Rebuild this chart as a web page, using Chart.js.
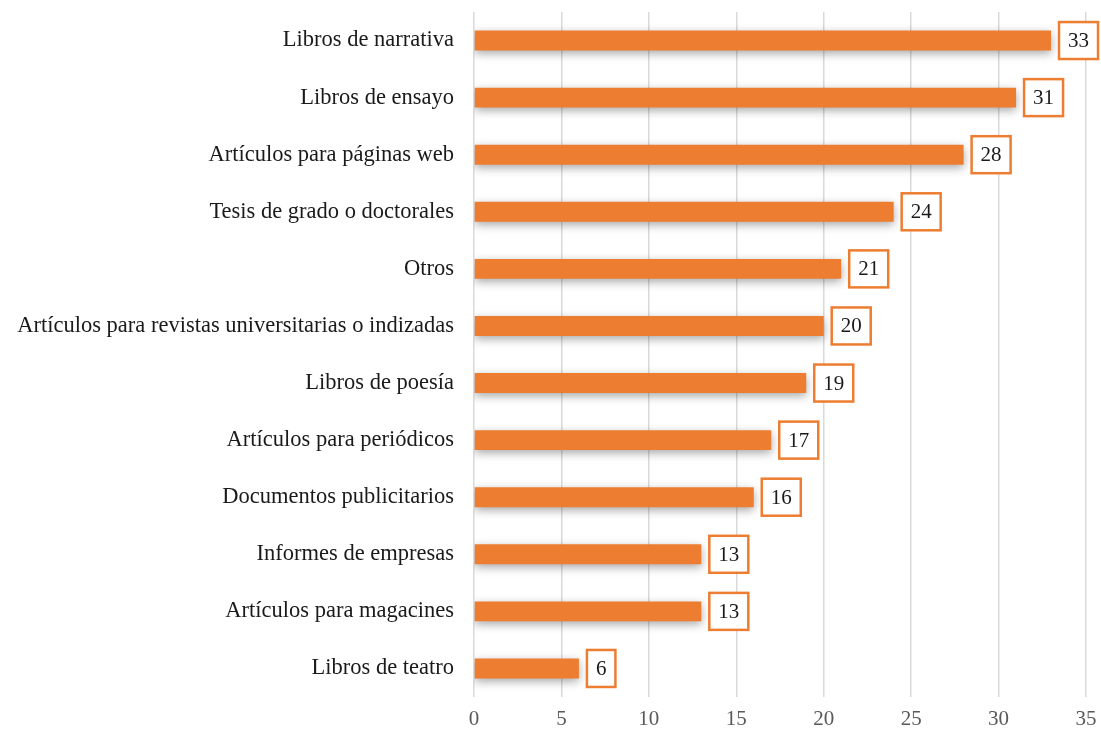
<!DOCTYPE html>
<html>
<head>
<meta charset="utf-8">
<script src="https://cdn.jsdelivr.net/npm/chart.js@4/dist/chart.umd.min.js"></script>
<style>
  html, body { margin: 0; padding: 0; background: #fff; }
  #chart { display: block; }
</style>
</head>
<body>
<canvas id="chart" width="1101" height="736"></canvas>
<script>
const categories = [
  'Libros de narrativa',
  'Libros de ensayo',
  'Artículos para páginas web',
  'Tesis de grado o doctorales',
  'Otros',
  'Artículos para revistas universitarias o indizadas',
  'Libros de poesía',
  'Artículos para periódicos',
  'Documentos publicitarios',
  'Informes de empresas',
  'Artículos para magacines',
  'Libros de teatro'
]
const values = [33, 31, 28, 24, 21, 20, 19, 17, 16, 13, 13, 6]
const xTicks = [0, 5, 10, 15, 20, 25, 30, 35]

const ORANGE = '#ED7D31'
const FONT = '"Liberation Serif", "DejaVu Serif", serif'

// soft shadow under the bars
const barShadow = {
  id: 'barShadow',
  beforeDatasetsDraw(chart) {
    const ctx = chart.ctx
    ctx.save()
    ctx.shadowColor = 'rgba(0, 0, 0, 0.35)'
    ctx.shadowBlur = 10
    ctx.shadowOffsetY = 3
  },
  afterDatasetsDraw(chart) {
    chart.ctx.restore()
  }
}

// boxed value labels at the end of each bar
const valueBoxes = {
  id: 'valueBoxes',
  afterDatasetsDraw(chart) {
    const ctx = chart.ctx
    const meta = chart.getDatasetMeta(0)
    ctx.save()
    ctx.font = '21px ' + FONT
    ctx.textBaseline = 'middle'
    ctx.textAlign = 'center'
    meta.data.forEach((bar, i) => {
      const text = String(chart.data.datasets[0].data[i])
      const w = ctx.measureText(text).width + 18
      const h = 37
      const x = bar.x + 8
      const y = bar.y - h / 2
      ctx.fillStyle = '#fff'
      ctx.fillRect(x, y, w, h)
      ctx.strokeStyle = ORANGE
      ctx.lineWidth = 2.5
      ctx.strokeRect(x, y, w, h)
      ctx.fillStyle = '#1a1a1a'
      ctx.fillText(text, x + w / 2, bar.y + 1)
    })
    ctx.restore()
  }
}

new Chart(document.getElementById('chart'), {
  type: 'bar',
  data: {
    labels: categories,
    datasets: [{
      data: values,
      backgroundColor: ORANGE,
      borderWidth: 0,
      barPercentage: 0.7,
      categoryPercentage: 0.5
    }]
  },
  options: {
    indexAxis: 'y',
    responsive: false,
    animation: false,
    layout: {
      padding: { top: 12, right: 15, left: 0, bottom: 0 }
    },
    plugins: {
      legend: { display: false },
      tooltip: { enabled: false }
    },
    scales: {
      x: {
        min: 0,
        max: 35,
        afterBuildTicks(scale) {
          scale.ticks = xTicks.map(v => ({ value: v }))
        },
        afterFit(scale) {
          scale.height = 39
          scale.paddingLeft = 0
          scale.paddingRight = 0
        },
        border: { display: false },
        grid: {
          color: '#d9d9d9',
          lineWidth: 1.5,
          drawTicks: false
        },
        ticks: {
          padding: 10,
          color: '#595959',
          font: { family: FONT, size: 21 }
        }
      },
      y: {
        afterFit(scale) {
          scale.width = 474
          scale.paddingTop = 0
          scale.paddingBottom = 0
        },
        border: { display: false },
        grid: { display: false, drawTicks: false },
        ticks: {
          padding: 20,
          color: '#1a1a1a',
          font: { family: FONT, size: 22.5 }
        }
      }
    }
  },
  plugins: [barShadow, valueBoxes]
})
</script>
</body>
</html>
